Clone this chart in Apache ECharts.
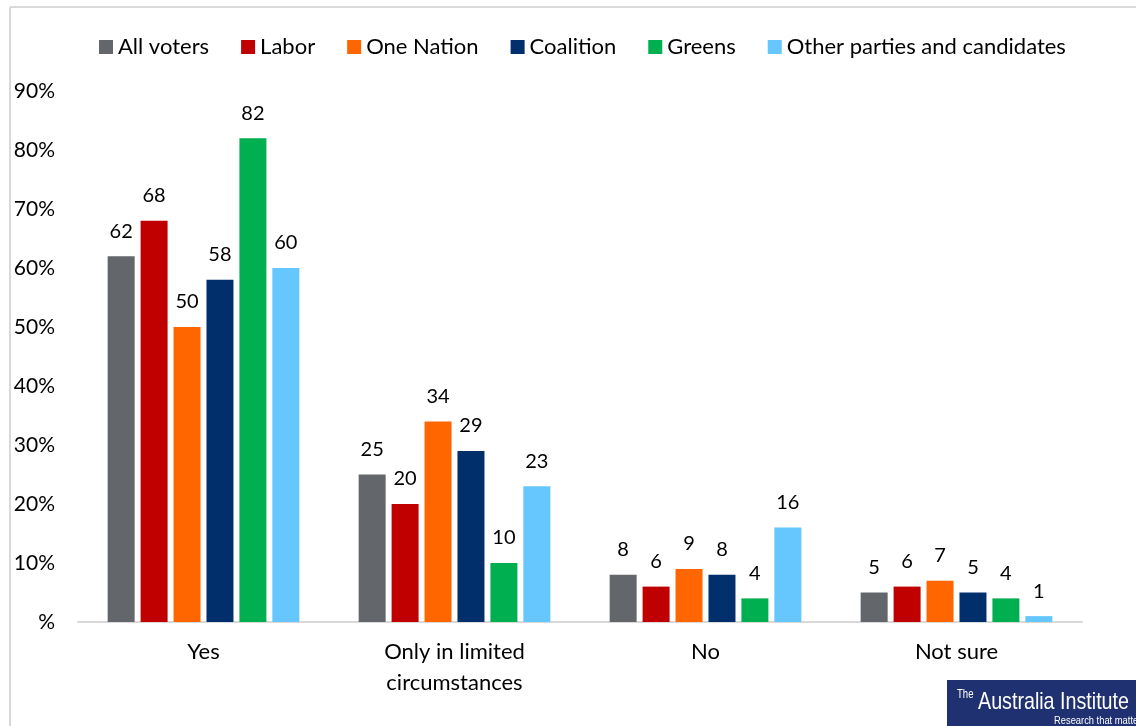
<!DOCTYPE html>
<html>
<head>
<meta charset="utf-8">
<script src="https://cdn.jsdelivr.net/npm/echarts@6/dist/echarts.min.js"></script>
<style>
  html, body { margin: 0; padding: 0; background: #ffffff; }
  #chart { width: 1136px; height: 726px; }
</style>
</head>
<body>
<div id="chart"></div>
<script>
// Survey responses by voting intention (percent)
const categories = ['Yes', 'Only in limited\ncircumstances', 'No', 'Not sure'];
const allVoters = [62, 25, 8, 5];
const labor = [68, 20, 6, 6];
const oneNation = [50, 34, 9, 7];
const coalition = [58, 29, 8, 5];
const greens = [82, 10, 4, 4];
const otherParties = [60, 23, 16, 1];
const yTickLabels = ['%', '10%', '20%', '30%', '40%', '50%', '60%', '70%', '80%', '90%'];

const seriesDefs = [
  { name: 'All voters', data: allVoters, color: '#63666a' },
  { name: 'Labor', data: labor, color: '#c00000' },
  { name: 'One Nation', data: oneNation, color: '#ff6600' },
  { name: 'Coalition', data: coalition, color: '#002f6c' },
  { name: 'Greens', data: greens, color: '#00b050' },
  { name: 'Other parties and candidates', data: otherParties, color: '#66c7ff' }
];

const FONT = 'Lato, "Liberation Sans", sans-serif';
const BADGE_FONT = '"Liberation Sans", sans-serif';

const chart = echarts.init(document.getElementById('chart'), null, { renderer: 'canvas' });

chart.setOption({
  backgroundColor: '#ffffff',
  animation: false,
  textStyle: { fontFamily: FONT, color: '#000000' },
  legend: {
    top: 31,
    left: 94,
    itemWidth: 14,
    itemHeight: 14,
    itemGap: 32,
    icon: 'rect',
    textStyle: { fontSize: 22, fontFamily: FONT, color: '#000000' },
    data: seriesDefs.map(s => s.name)
  },
  grid: { left: 78, right: 54, top: 91, bottom: 104, containLabel: false },
  xAxis: {
    type: 'category',
    data: categories,
    axisLine: { show: true, lineStyle: { color: '#d9d9d9', width: 2 } },
    axisTick: { show: false },
    axisLabel: { fontSize: 22, color: '#000000', margin: 14, lineHeight: 31, fontFamily: FONT }
  },
  yAxis: {
    type: 'value',
    min: 0,
    max: 90,
    interval: 10,
    splitLine: { show: false },
    axisLine: { show: false },
    axisTick: { show: false },
    axisLabel: {
      fontSize: 21,
      color: '#000000',
      margin: 23,
      fontFamily: FONT,
      padding: [3, 0, 0, 0],
      formatter: v => yTickLabels[Math.round(v / 10)]
    }
  },
  series: seriesDefs.map(s => ({
    name: s.name,
    type: 'bar',
    data: s.data,
    barWidth: 27,
    barGap: '22%',
    itemStyle: { color: s.color },
    label: {
      show: true,
      position: 'top',
      distance: 15,
      fontSize: 20,
      color: '#000000',
      fontFamily: FONT
    }
  })),
  graphic: [
    // frame lines
    { type: 'line', shape: { x1: 10, y1: 7, x2: 1136, y2: 7 }, style: { stroke: '#d9d9d9', lineWidth: 2 } },
    { type: 'line', shape: { x1: 10, y1: 7, x2: 10, y2: 726 }, style: { stroke: '#d9d9d9', lineWidth: 2 } },
    // publisher badge
    { type: 'rect', shape: { x: 947, y: 680, width: 189, height: 46 }, style: { fill: '#1f3170' } },
    { type: 'text', x: 957, y: 695, scaleX: 0.8,
      style: { x: 0, y: 0, text: 'The', fill: '#ffffff', font: '12px ' + BADGE_FONT, verticalAlign: 'middle' } },
    { type: 'text', x: 978, y: 702, scaleX: 0.82,
      style: { x: 0, y: 0, text: 'Australia Institute', fill: '#ffffff', font: '24px ' + BADGE_FONT, verticalAlign: 'middle' } },
    { type: 'text', x: 1054, y: 721, scaleX: 0.85,
      style: { x: 0, y: 0, text: 'Research that matters', fill: '#ffffff', font: '11px ' + BADGE_FONT, verticalAlign: 'middle' } }
  ]
});
</script>
</body>
</html>
